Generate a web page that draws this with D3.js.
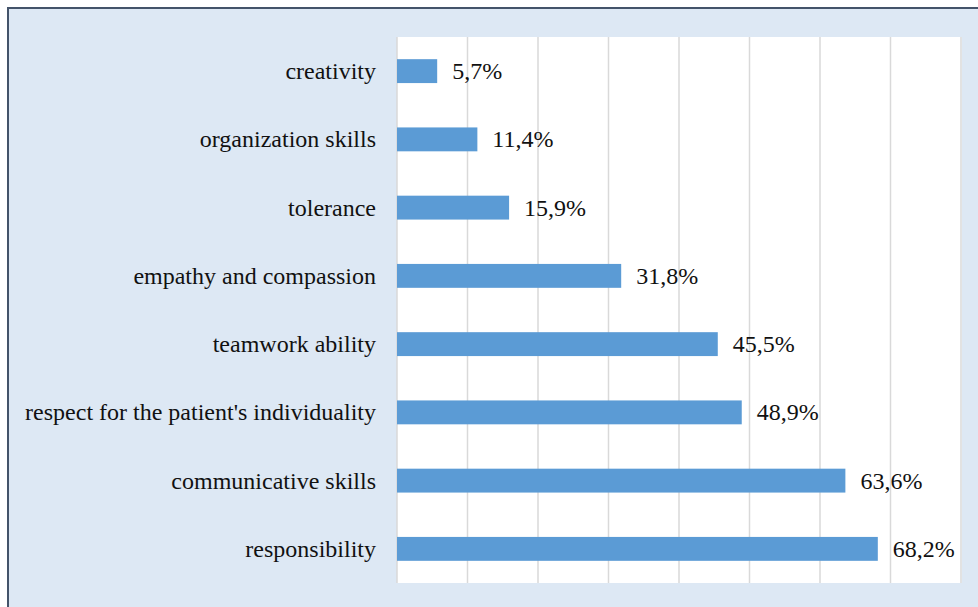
<!DOCTYPE html>
<html>
<head>
<meta charset="utf-8">
<script src="https://cdn.jsdelivr.net/npm/d3@7"></script>
<style>
  html, body { margin: 0; padding: 0; background: #ffffff; }
  svg { display: block; }
</style>
</head>
<body>
<svg id="chart" width="978" height="607"></svg>
<script>
// Qualities named by respondents, share in percent
const categories = [
  "creativity",
  "organization skills",
  "tolerance",
  "empathy and compassion",
  "teamwork ability",
  "respect for the patient's individuality",
  "communicative skills",
  "responsibility"
];
const values = [5.7, 11.4, 15.9, 31.8, 45.5, 48.9, 63.6, 68.2];
const gridTicks = [0, 10, 20, 30, 40, 50, 60, 70, 80];

const svg = d3.select("#chart");
const W = 978, H = 607;

// chart frame
svg.append("rect")
  .attr("x", 8).attr("y", 8)
  .attr("width", W + 10).attr("height", H + 10)
  .attr("fill", "#dde8f4")
  .attr("stroke", "#44546a")
  .attr("stroke-width", 2);

const plot = { left: 397, right: 961, top: 37, bottom: 583 };

const x = d3.scaleLinear().domain([0, 80]).range([plot.left, plot.right]);
const y = d3.scaleBand().domain(categories).range([plot.top, plot.bottom]).paddingInner(0.65).paddingOuter(0.325);

// plot area
svg.append("rect")
  .attr("x", plot.left).attr("y", plot.top)
  .attr("width", plot.right - plot.left + 1).attr("height", plot.bottom - plot.top)
  .attr("fill", "#ffffff");

// vertical gridlines
svg.append("g").selectAll("line")
  .data(gridTicks)
  .join("line")
  .attr("x1", d => x(d)).attr("x2", d => x(d))
  .attr("y1", plot.top).attr("y2", plot.bottom)
  .attr("stroke", "#d9d9d9")
  .attr("stroke-width", 1.5);

const data = categories.map((c, i) => ({ c, v: values[i] }));

// bars
svg.append("g").selectAll("rect")
  .data(data)
  .join("rect")
  .attr("x", x(0))
  .attr("y", d => y(d.c))
  .attr("width", d => x(d.v) - x(0))
  .attr("height", y.bandwidth())
  .attr("fill", "#5b9bd5");

const font = "'Liberation Serif', 'Times New Roman', serif";

// category labels
svg.append("g").selectAll("text")
  .data(data)
  .join("text")
  .attr("x", 376)
  .attr("y", d => y(d.c) + y.bandwidth() / 2)
  .attr("dy", "0.33em")
  .attr("text-anchor", "end")
  .attr("font-family", font)
  .attr("font-size", 24)
  .attr("fill", "#111")
  .text(d => d.c);

// value labels
const fmt = v => v.toFixed(1).replace(".", ",") + "%";
svg.append("g").selectAll("text")
  .data(data)
  .join("text")
  .attr("x", d => x(d.v) + 15)
  .attr("y", d => y(d.c) + y.bandwidth() / 2)
  .attr("dy", "0.33em")
  .attr("font-family", font)
  .attr("font-size", 24)
  .attr("fill", "#111")
  .text(d => fmt(d.v));
</script>
</body>
</html>
